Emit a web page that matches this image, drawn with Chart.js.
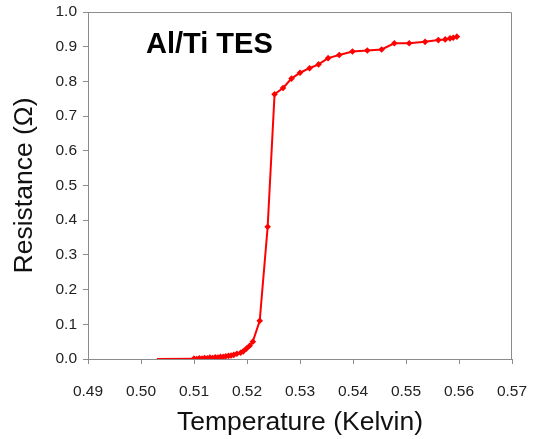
<!DOCTYPE html>
<html>
<head>
<meta charset="utf-8">
<script src="https://cdn.jsdelivr.net/npm/chart.js@4.4.1/dist/chart.umd.min.js"></script>
<style>
  html, body { margin: 0; padding: 0; background: #fff; }
  #wrap { width: 533px; height: 439px; }
</style>
</head>
<body>
<div id="wrap"><canvas id="myChart" width="533" height="439"></canvas></div>
<script>
// temperature (K) and resistance (ohm)
const temps = [
  0.5030, 0.5100, 0.5105, 0.5110, 0.5115, 0.5120, 0.5125, 0.5130, 0.5135,
  0.5140, 0.5145, 0.5150, 0.5155, 0.5160, 0.5165, 0.5170, 0.5175, 0.5181,
  0.5188, 0.5193, 0.5199, 0.5205, 0.5211, 0.5224, 0.5239, 0.5252, 0.5268,
  0.5284, 0.5300, 0.5318, 0.5335, 0.5353, 0.5374, 0.5399, 0.5427, 0.5454,
  0.5478, 0.5506, 0.5536, 0.5561, 0.5574, 0.5583, 0.5589, 0.5596
];
const resistances = [
  0.000, 0.001, 0.000, 0.002, 0.001, 0.003, 0.002, 0.004, 0.003,
  0.005, 0.004, 0.006, 0.006, 0.008, 0.009, 0.010, 0.012, 0.015,
  0.018, 0.022, 0.030, 0.038, 0.050, 0.110, 0.381, 0.763, 0.781,
  0.808, 0.825, 0.838, 0.849, 0.867, 0.876, 0.886, 0.889, 0.892,
  0.910, 0.910, 0.914, 0.919, 0.921, 0.924, 0.926, 0.929
];
const xTicks = [0.49, 0.50, 0.51, 0.52, 0.53, 0.54, 0.55, 0.56, 0.57];
const yTicks = [0.0, 0.1, 0.2, 0.3, 0.4, 0.5, 0.6, 0.7, 0.8, 0.9, 1.0];
const chartLabel = "Al/Ti TES";

const FONT = "'Liberation Sans', Arial, Helvetica, sans-serif";
const AXIS = "#8c8c8c";

// top/right frame plus the label inside the plot
const framePlugin = {
  id: "frame",
  afterDraw(chart) {
    const { ctx, chartArea: a } = chart;
    ctx.save();
    ctx.strokeStyle = AXIS;
    ctx.lineWidth = 1;
    ctx.beginPath();
    ctx.moveTo(a.left, a.top + 0.5);
    ctx.lineTo(a.right - 0.5, a.top + 0.5);
    ctx.lineTo(a.right - 0.5, a.bottom);
    ctx.stroke();
    ctx.fillStyle = "#000";
    ctx.font = "bold 29px " + FONT;
    ctx.textBaseline = "alphabetic";
    ctx.fillText(chartLabel, 146, 53);
    ctx.restore();
  }
};

const ctx = document.getElementById("myChart").getContext("2d");
new Chart(ctx, {
  type: "scatter",
  data: {
    datasets: [{
      data: temps.map((t, i) => ({ x: t, y: resistances[i] })),
      showLine: true,
      borderColor: "#ff0000",
      backgroundColor: "#ff0000",
      borderWidth: 2,
      pointStyle: "rectRot",
      pointRadius: c => c.dataIndex === 0 ? 0 : 3.3,
      pointBorderWidth: 0,
      tension: 0
    }]
  },
  options: {
    responsive: false,
    animation: false,
    layout: { padding: { left: 0, right: 21, top: 12, bottom: 0 } },
    plugins: { legend: { display: false }, tooltip: { enabled: false } },
    scales: {
      x: {
        type: "linear",
        min: 0.49,
        max: 0.57,
        afterBuildTicks: s => { s.ticks = xTicks.map(v => ({ value: v })); },
        afterFit: s => { s.height = 80; s.paddingLeft = 0; s.paddingRight = 0; },
        grid: { drawOnChartArea: false, drawTicks: true, tickLength: 5, color: AXIS },
        border: { color: AXIS, width: 1 },
        ticks: {
          color: "#222",
          font: { family: FONT, size: 15.5 },
          padding: 18,
          maxRotation: 0,
          callback: v => v.toFixed(2)
        },
        title: {
          display: true,
          text: "Temperature (Kelvin)",
          color: "#111",
          font: { family: FONT, size: 26.5, lineHeight: 1.2 },
          padding: { top: 0, bottom: 0 }
        }
      },
      y: {
        min: 0,
        max: 1,
        afterBuildTicks: s => { s.ticks = yTicks.map(v => ({ value: v })); },
        afterFit: s => { s.width = 88; s.paddingTop = 0; s.paddingBottom = 0; },
        grid: { drawOnChartArea: false, drawTicks: true, tickLength: 5, color: AXIS },
        border: { color: AXIS, width: 1 },
        ticks: {
          color: "#222",
          font: { family: FONT, size: 15.5 },
          padding: 6,
          callback: v => v.toFixed(1)
        },
        title: {
          display: true,
          text: "Resistance (Ω)",
          color: "#111",
          font: { family: FONT, size: 26.5, lineHeight: 1.2 },
          padding: { top: 9, bottom: 0 }
        }
      }
    }
  },
  plugins: [framePlugin]
});
</script>
</body>
</html>
